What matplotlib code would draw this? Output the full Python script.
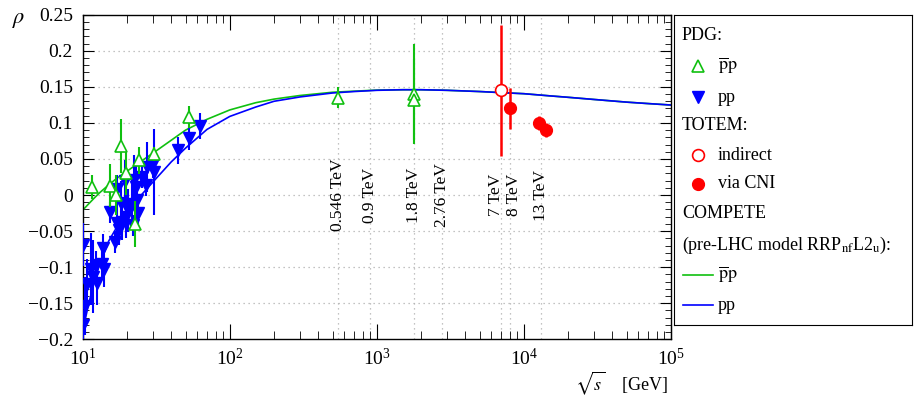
import numpy as np
import matplotlib
matplotlib.use("Agg")
import matplotlib.pyplot as plt
from matplotlib.ticker import MultipleLocator, FuncFormatter, LogLocator, LogFormatterMathtext

plt.rcParams['font.family'] = ['Liberation Serif', 'DejaVu Serif']
plt.rcParams['mathtext.fontset'] = 'stix'

GREEN = '#10c010'
BLUE = '#0000ff'
RED = '#ff0000'

# PDG pbar-p
pbp_sqrt_s = [11.6, 15.3, 16.9, 18.2, 19.7, 22.8, 24.3, 30.5, 52.8, 546.0, 1800.0, 1800.0]
pbp_rho = [0.011, 0.013, 0.000, 0.068, 0.030, -0.040, 0.048, 0.057, 0.108, 0.135, 0.140, 0.132]
pbp_err = [0.017, 0.030, 0.028, 0.037, 0.030, 0.032, 0.019, 0.010, 0.015, 0.015, 0.069, 0.056]

# PDG pp
pp_sqrt_s = [10.05, 10.1, 10.4, 10.7, 11.3, 11.7, 12.4, 12.6, 13.6, 13.8, 14.0, 15.3, 16.6,
             17.0, 17.0, 17.7, 18.2, 18.4, 19.4, 19.7, 20.4, 21.5, 21.9, 22.3, 23.0, 23.5,
             23.9, 25.2, 26.9, 27.2, 30.2, 30.6, 44.8, 53.0, 62.9]
pp_rho = [-0.069, -0.180, -0.154, -0.123, -0.103, -0.113, -0.097, -0.122, -0.095, -0.074,
          -0.103, -0.024, -0.065, 0.008, -0.039, -0.049, -0.011, -0.037, 0.019, -0.030,
          -0.021, -0.013, -0.042, 0.021, 0.011, -0.007, -0.025, 0.025, 0.014, 0.039, 0.043,
          0.032, 0.062, 0.079, 0.096]
pp_err = [0.030, 0.020, 0.040, 0.035, 0.050, 0.050, 0.020, 0.030, 0.020, 0.020, 0.025, 0.015,
          0.015, 0.020, 0.030, 0.020, 0.030, 0.025, 0.030, 0.030, 0.030, 0.035, 0.015, 0.035,
          0.030, 0.030, 0.020, 0.015, 0.015, 0.035, 0.020, 0.060, 0.019, 0.016, 0.018]

# TOTEM
totem_ind_sqrt_s = [7000.0]
totem_ind_rho = [0.145]
totem_ind_err = [0.091]
totem_cni_sqrt_s = [8000.0, 12600.0, 14200.0]
totem_cni_rho = [0.120, 0.100, 0.090]
totem_cni_err = [0.029, 0.010, 0.010]

# COMPETE curves
curve_sqrt_s = [10, 11, 12, 13, 15, 17, 20, 25, 30, 40, 50, 70, 100, 150, 200, 300, 500, 700,
                1000, 1500, 2000, 3000, 5000, 7000, 10000, 15000, 20000, 30000, 50000, 70000, 100000]
curve_pbp = [-0.021, -0.012, -0.004, 0.003, 0.014, 0.023, 0.033, 0.047, 0.058, 0.076, 0.090,
             0.105, 0.118, 0.128, 0.133, 0.138, 0.1425, 0.144, 0.1455, 0.146, 0.146, 0.1452,
             0.1435, 0.142, 0.1405, 0.1375, 0.1355, 0.1325, 0.1288, 0.1268, 0.1248]
curve_pp = [-0.188, -0.150, -0.120, -0.097, -0.064, -0.045, -0.025, 0.000, 0.018, 0.046, 0.065,
            0.091, 0.109, 0.122, 0.130, 0.136, 0.1415, 0.1435, 0.1452, 0.146, 0.146, 0.1452,
            0.1435, 0.142, 0.1405, 0.1375, 0.1355, 0.1325, 0.1288, 0.1268, 0.1248]

# energies marked with vertical lines
mark_sqrt_s = [546, 900, 1800, 2760, 7000, 8000, 13000]
mark_labels = ["0.546 TeV", "0.9 TeV", "1.8 TeV", "2.76 TeV", "7 TeV", "8 TeV", "13 TeV"]
mark_shift = [0, 0, 0, 0, -3.5, 3, 0]

fig = plt.figure(figsize=(9.16, 4.03), dpi=100)
ax = fig.add_axes([0.0903, 0.158, 0.6422, 0.8055])

ax.set_xscale('log')
ax.set_xlim(10, 1e5)
ax.set_ylim(-0.2, 0.25)

for v in [0.2, 0.15, 0.1, 0.05, 0.0, -0.05, -0.1, -0.15]:
    ax.axhline(v, color='#b0b0b0', lw=0.9, ls=(0, (1, 3)), zorder=0)
for e, lab, dx in zip(mark_sqrt_s, mark_labels, mark_shift):
    ax.axvline(e, color='#b0b0b0', lw=0.9, ls=(0, (1, 3)), zorder=0)
    ax.annotate(lab, (e, 0.0), xytext=(dx, 0), textcoords='offset points',
                rotation=90, ha='center', va='center', fontsize=12.5)

ax.plot(curve_sqrt_s, curve_pbp, color=GREEN, lw=1.2, zorder=2)
ax.plot(curve_sqrt_s, curve_pp, color=BLUE, lw=1.2, zorder=2)

ax.errorbar(pp_sqrt_s, pp_rho, yerr=pp_err, fmt='v', color=BLUE, ms=8, elinewidth=1.5,
            capsize=0, zorder=3)
ax.errorbar(pbp_sqrt_s, pbp_rho, yerr=pbp_err, fmt='^', color=GREEN, mfc='white', ms=8,
            mew=1.2, elinewidth=1.5, capsize=0, zorder=4)
ax.errorbar(totem_ind_sqrt_s, totem_ind_rho, yerr=totem_ind_err, fmt='o', color=RED, mfc='white',
            ms=8.5, mew=1.2, elinewidth=1.8, capsize=0, zorder=5)
ax.errorbar(totem_cni_sqrt_s, totem_cni_rho, yerr=totem_cni_err, fmt='o', color=RED, ms=8.5,
            elinewidth=1.8, capsize=0, zorder=5)

ax.yaxis.set_major_locator(MultipleLocator(0.05))
ax.yaxis.set_minor_locator(MultipleLocator(0.01))
ax.yaxis.set_major_formatter(FuncFormatter(lambda v, p: f"{round(v, 3):g}".replace('-', '\u2212')))
ax.xaxis.set_major_locator(LogLocator(base=10))
ax.xaxis.set_minor_locator(LogLocator(base=10, subs=np.arange(2, 10)))
ax.xaxis.set_major_formatter(LogFormatterMathtext())
ax.tick_params(which='both', direction='in', top=True, right=True, labelsize=14)
ax.tick_params(axis='y', which='major', length=8, pad=7)
ax.tick_params(axis='y', which='minor', length=4.5)
ax.tick_params(axis='x', which='major', length=11, pad=6)
ax.tick_params(axis='x', which='minor', length=6)
for s in ax.spines.values():
    s.set_linewidth(1.0)

fig.text(12 / 916, 1 - 20 / 403, r'$\rho$', fontsize=16, ha='left', va='center')
fig.text(668 / 916, 20 / 403, r'$\sqrt{s}$    [GeV]', fontsize=13, ha='right', va='center')

# legend box
lg = fig.add_axes([674 / 916, 78 / 403, 238 / 916, 310 / 403])
lg.set_xlim(674, 912)
lg.set_ylim(325, 15)
lg.set_xticks([])
lg.set_yticks([])
fs = 13
hx, mx, tx = 682, 698, 718
lg.text(hx, 35, "PDG:", fontsize=fs, va='center')
lg.plot([mx], [66], '^', color=GREEN, mfc='white', ms=8, mew=1.2)
lg.text(tx, 66, r'$\overline{\mathrm{p}}\mathrm{p}$', fontsize=fs, va='center')
lg.plot([mx], [97], 'v', color=BLUE, ms=8)
lg.text(tx, 97, "pp", fontsize=fs, va='center')
lg.text(hx, 125, "TOTEM:", fontsize=fs, va='center')
lg.plot([mx], [155], 'o', color=RED, mfc='white', ms=8.5, mew=1.2)
lg.text(tx, 155, "indirect", fontsize=fs, va='center')
lg.plot([mx], [184], 'o', color=RED, ms=8.5)
lg.text(tx, 184, "via CNI", fontsize=fs, va='center')
lg.text(hx, 213, "COMPETE", fontsize=fs, va='center')
lg.text(hx, 245, r'(pre-LHC model RRP$_{\mathrm{nf}}$L2$_{\mathrm{u}}$):', fontsize=fs, va='center')
lg.plot([683, 713], [275, 275], color=GREEN, lw=1.2)
lg.text(tx, 275, r'$\overline{\mathrm{p}}\mathrm{p}$', fontsize=fs, va='center')
lg.plot([683, 713], [305, 305], color=BLUE, lw=1.2)
lg.text(tx, 305, "pp", fontsize=fs, va='center')

fig.savefig("out.png", dpi=100)
